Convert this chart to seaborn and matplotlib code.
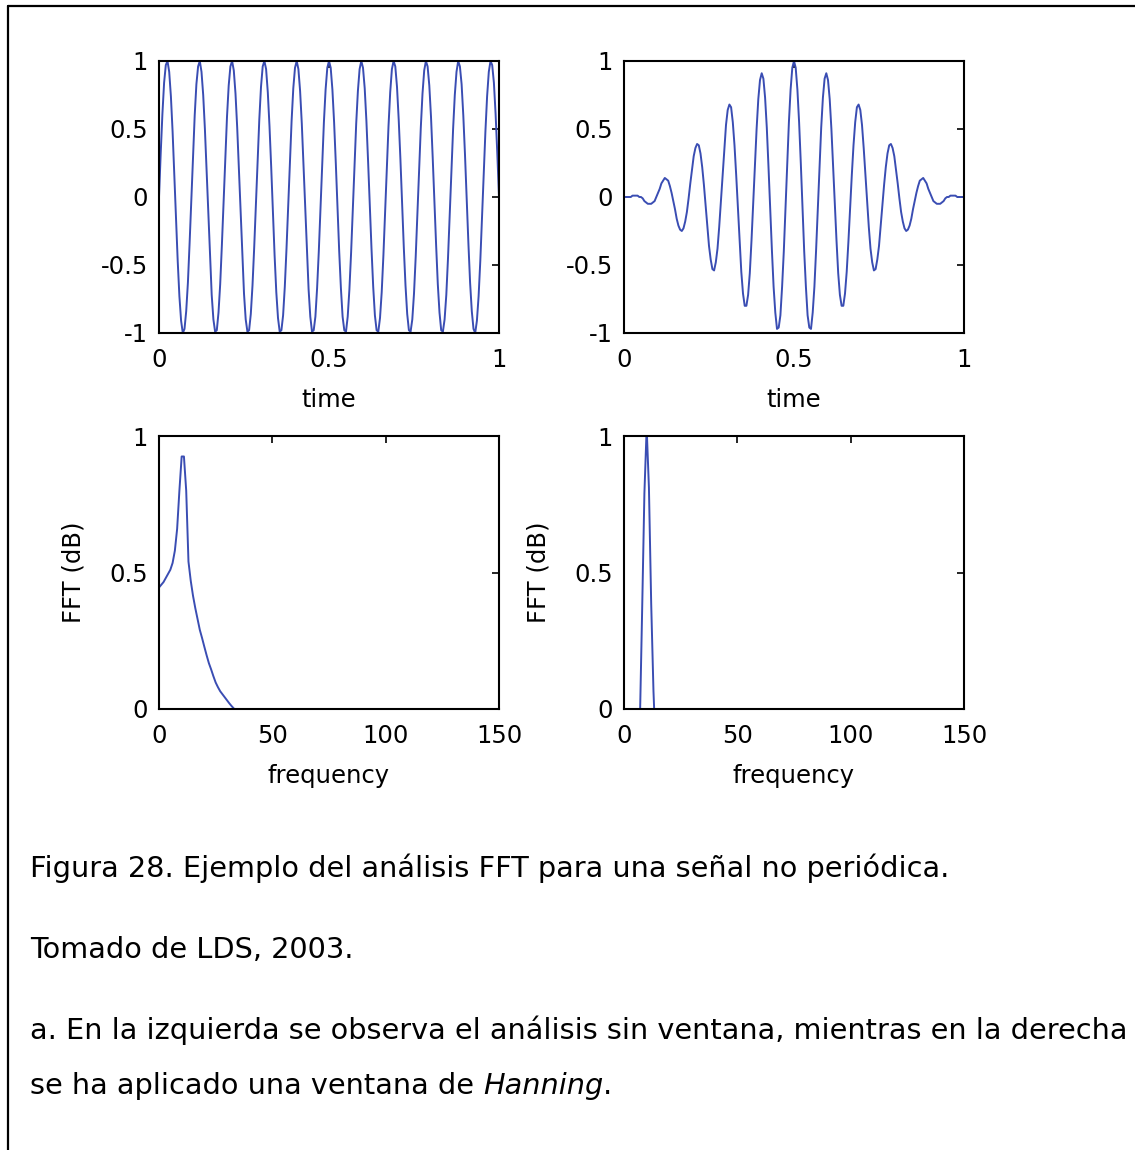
import numpy as np
import matplotlib.pyplot as plt
from matplotlib.lines import Line2D
import seaborn as sns

time = np.linspace(0, 1, 201)

signal = [
    0.00, 0.32, 0.61, 0.84, 0.97, 1.00, 0.92, 0.74, 0.48, 0.17,
    -0.16, -0.47, -0.73, -0.91, -1.00, -0.97, -0.84, -0.63, -0.34, -0.02,
    0.31, 0.60, 0.83, 0.96, 1.00, 0.92, 0.75, 0.50, 0.19, -0.14,
    -0.45, -0.72, -0.90, -0.99, -0.98, -0.85, -0.64, -0.35, -0.03, 0.29,
    0.59, 0.82, 0.96, 1.00, 0.93, 0.76, 0.51, 0.20, -0.13, -0.44,
    -0.71, -0.90, -0.99, -0.98, -0.86, -0.65, -0.37, -0.05, 0.28, 0.57,
    0.81, 0.96, 1.00, 0.94, 0.77, 0.52, 0.22, -0.11, -0.43, -0.70,
    -0.89, -0.99, -0.98, -0.87, -0.66, -0.38, -0.06, 0.26, 0.56, 0.80,
    0.95, 1.00, 0.94, 0.78, 0.54, 0.23, -0.09, -0.41, -0.68, -0.88,
    -0.99, -0.98, -0.88, -0.67, -0.40, -0.08, 0.25, 0.55, 0.79, 0.95,
    1.00,
    0.95, 0.79, 0.55, 0.25, -0.08, -0.40, -0.67, -0.88, -0.98, -0.99,
    -0.88, -0.68, -0.41, -0.09, 0.23, 0.54, 0.78, 0.94, 1.00, 0.95,
    0.80, 0.56, 0.26, -0.06, -0.38, -0.66, -0.87, -0.98, -0.99, -0.89,
    -0.70, -0.43, -0.11, 0.22, 0.52, 0.77, 0.94, 1.00, 0.96, 0.81,
    0.57, 0.28, -0.05, -0.37, -0.65, -0.86, -0.98, -0.99, -0.90, -0.71,
    -0.44, -0.13, 0.20, 0.51, 0.76, 0.93, 1.00, 0.96, 0.82, 0.59,
    0.29, -0.03, -0.35, -0.64, -0.85, -0.98, -0.99, -0.90, -0.72, -0.45,
    -0.14, 0.19, 0.50, 0.75, 0.92, 1.00, 0.96, 0.83, 0.60, 0.31,
    -0.02, -0.34, -0.63, -0.84, -0.97, -1.00, -0.91, -0.73, -0.47, -0.16,
    0.17, 0.48, 0.74, 0.92, 1.00, 0.97, 0.84, 0.61, 0.32, 0.00,
]

windowed = [
    0.00, 0.00, 0.00, 0.00, 0.00, 0.01, 0.01, 0.01, 0.01, 0.00,
    0.00, -0.01, -0.03, -0.04, -0.05, -0.05, -0.05, -0.04, -0.03, 0.00,
    0.03, 0.06, 0.10, 0.12, 0.14, 0.13, 0.12, 0.08, 0.03, -0.03,
    -0.09, -0.16, -0.21, -0.24, -0.25, -0.23, -0.18, -0.11, -0.01, 0.10,
    0.20, 0.30, 0.36, 0.39, 0.38, 0.32, 0.22, 0.09, -0.06, -0.21,
    -0.36, -0.46, -0.53, -0.54, -0.48, -0.38, -0.22, -0.03, 0.17, 0.36,
    0.53, 0.64, 0.68, 0.66, 0.55, 0.38, 0.16, -0.08, -0.33, -0.55,
    -0.71, -0.80, -0.80, -0.72, -0.56, -0.32, -0.05, 0.23, 0.50, 0.72,
    0.86, 0.91, 0.87, 0.73, 0.51, 0.22, -0.09, -0.39, -0.66, -0.85,
    -0.97, -0.96, -0.87, -0.66, -0.40, -0.08, 0.25, 0.55, 0.79, 0.95,
    1.00,
    0.95, 0.79, 0.55, 0.25, -0.08, -0.40, -0.66, -0.87, -0.96, -0.97,
    -0.85, -0.66, -0.39, -0.09, 0.22, 0.51, 0.73, 0.87, 0.91, 0.86,
    0.72, 0.50, 0.23, -0.05, -0.32, -0.56, -0.72, -0.80, -0.80, -0.71,
    -0.55, -0.33, -0.08, 0.16, 0.38, 0.55, 0.66, 0.68, 0.64, 0.53,
    0.36, 0.17, -0.03, -0.22, -0.38, -0.48, -0.54, -0.53, -0.46, -0.36,
    -0.21, -0.06, 0.09, 0.22, 0.32, 0.38, 0.39, 0.36, 0.30, 0.20,
    0.10, -0.01, -0.11, -0.18, -0.23, -0.25, -0.24, -0.21, -0.16, -0.09,
    -0.03, 0.03, 0.08, 0.12, 0.13, 0.14, 0.12, 0.10, 0.06, 0.03,
    0.00, -0.03, -0.04, -0.05, -0.05, -0.05, -0.04, -0.03, -0.01, 0.00,
    0.00, 0.01, 0.01, 0.01, 0.01, 0.00, 0.00, 0.00, 0.00, 0.00,
]

# spectra (normalised, axis clipped at 0..1)
freq_nowin = [0, 1, 2, 3, 4, 5, 6, 7, 8, 9, 10, 11, 12, 13, 14, 15, 16, 17,
              18, 19, 20, 21, 22, 23, 24, 25, 26, 27, 28, 29, 30, 31, 32, 33,
              34, 35]
fft_nowin = [0.445, 0.455, 0.465, 0.48, 0.495, 0.51, 0.535, 0.58, 0.66, 0.80,
             0.925, 0.925, 0.80, 0.54, 0.47, 0.415, 0.37, 0.33, 0.29, 0.26,
             0.228, 0.197, 0.168, 0.145, 0.12, 0.097, 0.08, 0.065, 0.054,
             0.043, 0.032, 0.021, 0.011, 0.002, -0.008, -0.02]

freq_hann = [7, 8, 9, 10, 11, 12, 13, 14]
fft_hann = [-0.05, 0.36, 0.79, 1.03, 0.81, 0.385, 0.066, -0.15]

sns.set_theme(style="white")
plt.rcParams['font.family'] = ['DejaVu Sans']
plt.rcParams['axes.unicode_minus'] = False

blue = '#3a4db3'
fs = 17.5

fig = plt.figure(figsize=(11.35, 11.5), dpi=100)

W, H = 1135, 1150
def box(x0, y0, x1, y1):
    return [x0 / W, 1 - y1 / H, (x1 - x0) / W, (y1 - y0) / H]

ax1 = fig.add_axes(box(159, 61, 499, 333))
ax2 = fig.add_axes(box(624, 61, 964, 333))
ax3 = fig.add_axes(box(159, 436, 499, 709))
ax4 = fig.add_axes(box(624, 436, 964, 709))

sns.lineplot(x=time, y=signal, ax=ax1, color=blue, linewidth=1.4,
             estimator=None, sort=False)
sns.lineplot(x=time, y=windowed, ax=ax2, color=blue, linewidth=1.4,
             estimator=None, sort=False)
sns.lineplot(x=freq_nowin, y=fft_nowin, ax=ax3, color=blue, linewidth=1.4,
             estimator=None, sort=False)
sns.lineplot(x=freq_hann, y=fft_hann, ax=ax4, color=blue, linewidth=1.4,
             estimator=None, sort=False)

for ax in (ax1, ax2):
    ax.set_xlim(0, 1)
    ax.set_ylim(-1, 1)
    ax.set_xticks([0, 0.5, 1])
    ax.set_xticklabels(['0', '0.5', '1'])
    ax.set_yticks([-1, -0.5, 0, 0.5, 1])
    ax.set_yticklabels(['-1', '-0.5', '0', '0.5', '1'])
    ax.set_xlabel('time', fontsize=fs, labelpad=12, color='black')

for ax in (ax3, ax4):
    ax.set_xlim(0, 150)
    ax.set_ylim(0, 1)
    ax.set_xticks([0, 50, 100, 150])
    ax.set_xticklabels(['0', '50', '100', '150'])
    ax.set_yticks([0, 0.5, 1])
    ax.set_yticklabels(['0', '0.5', '1'])
    ax.set_xlabel('frequency', fontsize=fs, labelpad=12, color='black')
    ax.set_ylabel('FFT (dB)', fontsize=fs, labelpad=17, color='black')

for ax in (ax1, ax2, ax3, ax4):
    ax.tick_params(direction='in', length=5, width=1.2, top=True, right=True,
                   labelsize=fs, colors='black')
    ax.tick_params(axis='x', pad=10.5)
    ax.tick_params(axis='y', pad=8)
    for s in ax.spines.values():
        s.set_color('black')
        s.set_linewidth(1.5)
    ax.set_facecolor('white')

# caption
cap = dict(fontsize=20.7, color='black', ha='left', va='baseline')
fig.text(30 / W, 1 - 877 / H,
         'Figura 28. Ejemplo del análisis FFT para una señal no periódica.', **cap)
fig.text(30 / W, 1 - 958 / H, 'Tomado de LDS, 2003.', **cap)
fig.text(30 / W, 1 - 1039 / H,
         'a. En la izquierda se observa el análisis sin ventana, mientras en la derecha', **cap)
t1 = fig.text(30 / W, 1 - 1094 / H, 'se ha aplicado una ventana de ', **cap)
fig.canvas.draw()
bb = t1.get_window_extent()
t2 = fig.text(bb.x1 / W, 1 - 1094 / H, 'Hanning', style='italic', **cap)
fig.canvas.draw()
bb2 = t2.get_window_extent()
fig.text(bb2.x1 / W, 1 - 1094 / H, '.', **cap)

# page frame
fig.add_artist(Line2D([8 / W, 8 / W], [0, 1 - 6 / H], color='black', lw=1.6))
fig.add_artist(Line2D([8 / W, 1], [1 - 6 / H, 1 - 6 / H], color='black', lw=1.6))

fig.savefig('out.png', dpi=100)
